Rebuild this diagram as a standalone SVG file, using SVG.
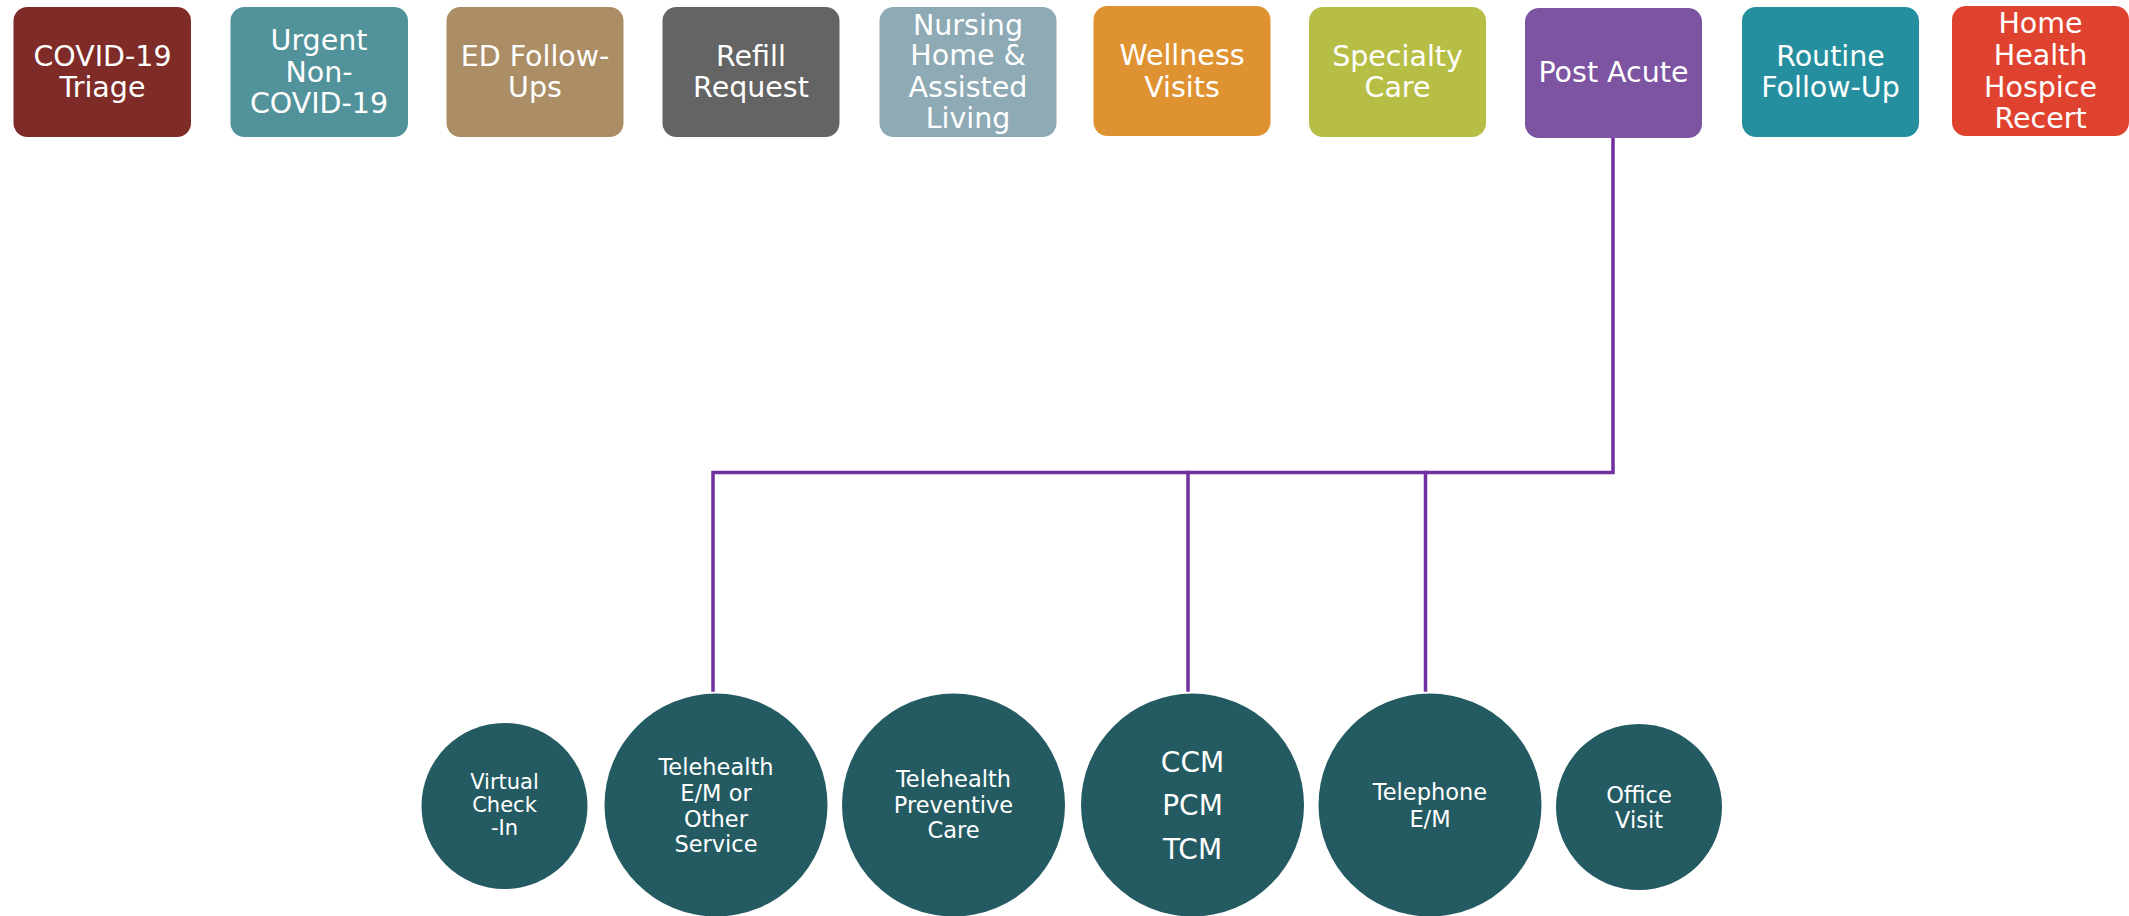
<svg xmlns="http://www.w3.org/2000/svg" width="2129" height="916" viewBox="0 0 2129 916">
<style>
.box{stroke:none}
.bt{font-family:"DejaVu Sans","Liberation Sans",sans-serif;font-size:28.5px;fill:#fff;text-anchor:middle}
.ct{font-family:"DejaVu Sans","Liberation Sans",sans-serif;font-size:22.5px;fill:#fff;text-anchor:middle}
.cb{font-family:"DejaVu Sans","Liberation Sans",sans-serif;font-size:28px;fill:#fff;text-anchor:middle}
.circ{fill:#245B62}
.conn{fill:none;stroke:#7030A0;stroke-width:3.5;stroke-linejoin:miter;stroke-linecap:square}
</style>
<rect width="2129" height="916" fill="#fff"/>
<g id="connectors">
<path class="conn" d="M1613,137 V472.5 H713 V690"/>
<path class="conn" d="M1188,472.5 V690"/>
<path class="conn" d="M1425.5,472.5 V690"/>
</g>
<g id="n1"><rect class="box" x="13.5" y="7" width="177.5" height="130" rx="14" fill="#7F2B27"/><text class="bt" x="102.5" y="66">COVID-19</text><text class="bt" x="102.5" y="97">Triage</text></g>
<g id="n2"><rect class="box" x="230.5" y="7" width="177.5" height="130" rx="14" fill="#52939B"/><text class="bt" x="319" y="50">Urgent</text><text class="bt" x="319" y="82">Non-</text><text class="bt" x="319" y="113">COVID-19</text></g>
<g id="n3"><rect class="box" x="446.5" y="7" width="177" height="130" rx="14" fill="#AB8E66"/><text class="bt" x="535" y="66">ED Follow-</text><text class="bt" x="535" y="97">Ups</text></g>
<g id="n4"><rect class="box" x="662.5" y="7" width="177" height="130" rx="14" fill="#646464"/><text class="bt" x="751" y="66">Refill</text><text class="bt" x="751" y="97">Request</text></g>
<g id="n5"><rect class="box" x="879.5" y="7" width="177" height="130" rx="14" fill="#8DAAB5"/><text class="bt" x="968" y="35">Nursing</text><text class="bt" x="968" y="65">Home &amp;</text><text class="bt" x="968" y="97">Assisted</text><text class="bt" x="968" y="128">Living</text></g>
<g id="n6"><rect class="box" x="1093.5" y="6" width="177" height="130" rx="14" fill="#DF9232"/><text class="bt" x="1182" y="65">Wellness</text><text class="bt" x="1182" y="97">Visits</text></g>
<g id="n7"><rect class="box" x="1309" y="7" width="177" height="130" rx="14" fill="#B7BE46"/><text class="bt" x="1397.5" y="66">Specialty</text><text class="bt" x="1397.5" y="97">Care</text></g>
<g id="n8"><rect class="box" x="1525" y="8" width="177" height="130" rx="14" fill="#7C54A2"/><text class="bt" x="1613.5" y="82">Post Acute</text></g>
<g id="n9"><rect class="box" x="1742" y="7" width="177" height="130" rx="14" fill="#258F9F"/><text class="bt" x="1830.5" y="66">Routine</text><text class="bt" x="1830.5" y="97">Follow-Up</text></g>
<g id="n10"><rect class="box" x="1952" y="6" width="177" height="130" rx="14" fill="#DF432F"/><text class="bt" x="2040.5" y="33">Home</text><text class="bt" x="2040.5" y="65">Health</text><text class="bt" x="2040.5" y="97">Hospice</text><text class="bt" x="2040.5" y="128">Recert</text></g>
<g id="c1"><circle class="circ" cx="504.5" cy="806" r="83"/><text class="ct" x="504.5" y="789" style="font-size:21px">Virtual</text><text class="ct" x="504.5" y="812" style="font-size:21px">Check</text><text class="ct" x="504.5" y="835" style="font-size:21px">-In</text></g>
<g id="c2"><circle class="circ" cx="716" cy="805" r="111.5"/><text class="ct" x="716" y="775">Telehealth</text><text class="ct" x="716" y="800.5">E/M or</text><text class="ct" x="716" y="826.5">Other</text><text class="ct" x="716" y="852">Service</text></g>
<g id="c3"><circle class="circ" cx="953.5" cy="805" r="111.5"/><text class="ct" x="953.5" y="787">Telehealth</text><text class="ct" x="953.5" y="813">Preventive</text><text class="ct" x="953.5" y="838">Care</text></g>
<g id="c4"><circle class="circ" cx="1192.5" cy="805" r="111.5"/><text class="cb" x="1192.5" y="772">CCM</text><text class="cb" x="1192.5" y="815">PCM</text><text class="cb" x="1192.5" y="859">TCM</text></g>
<g id="c5"><circle class="circ" cx="1430" cy="805" r="111.5"/><text class="ct" x="1430" y="800">Telephone</text><text class="ct" x="1430" y="826.5">E/M</text></g>
<g id="c6"><circle class="circ" cx="1639" cy="807" r="83"/><text class="ct" x="1639" y="802.5">Office</text><text class="ct" x="1639" y="828">Visit</text></g>
</svg>
